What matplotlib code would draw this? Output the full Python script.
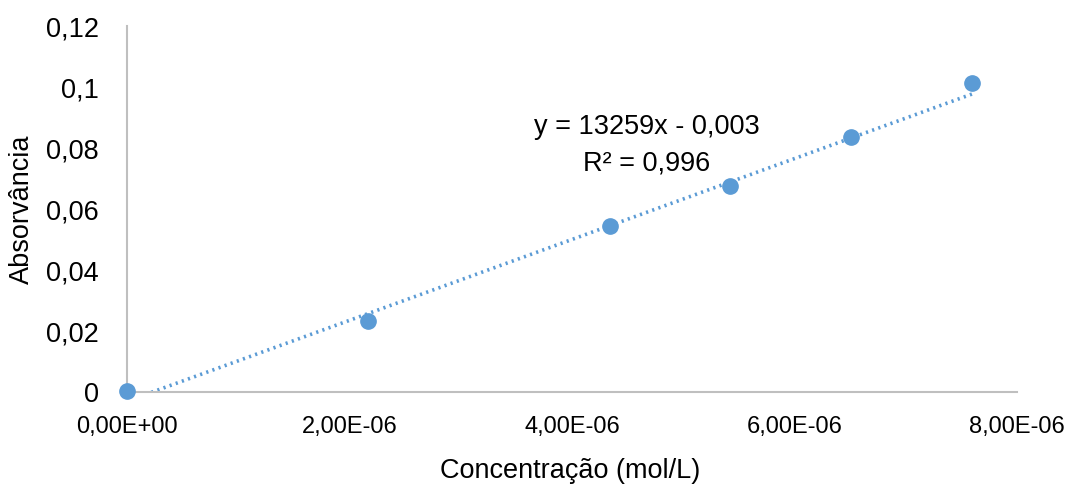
import matplotlib
matplotlib.use("Agg")
import matplotlib.pyplot as plt
import numpy as np

# concentration (mol/L) and absorbance
conc = [0.0, 2.17e-6, 4.34e-6, 5.42e-6, 6.51e-6, 7.60e-6]
absorb = [0.0003, 0.0234, 0.0544, 0.0675, 0.0835, 0.1015]
slope = 13259
intercept = -0.003
eq_text = "y = 13259x - 0,003\nR² = 0,996"

x_ticks = [0, 2e-6, 4e-6, 6e-6, 8e-6]
x_labels = ["0,00E+00", "2,00E-06", "4,00E-06", "6,00E-06", "8,00E-06"]
y_ticks = [0, 0.02, 0.04, 0.06, 0.08, 0.1, 0.12]
y_labels = ["0", "0,02", "0,04", "0,06", "0,08", "0,1", "0,12"]

plt.rcParams["font.family"] = ["Liberation Sans", "DejaVu Sans"]

blue = "#5B9BD5"

fig = plt.figure(figsize=(10.75, 4.92), dpi=100)
ax = fig.add_axes([0.118, 0.203, 0.828, 0.744])

xs = np.array([conc[0], conc[-1]])
ax.plot(xs, slope * xs + intercept, linestyle=(0, (0.6, 1.2)), color=blue,
        linewidth=2.6, zorder=2)
ax.plot(conc, absorb, "o", color=blue, markersize=11, zorder=3, clip_on=False)

ax.set_xlim(0, 8e-6)
ax.set_ylim(0, 0.12)
ax.set_xticks(x_ticks)
ax.set_xticklabels(x_labels)
ax.set_yticks(y_ticks)
ax.set_yticklabels(y_labels)
ax.tick_params(length=0)
ax.tick_params(axis="x", labelsize=17, pad=17)
ax.tick_params(axis="y", labelsize=19.5, pad=20)

for side in ["top", "right"]:
    ax.spines[side].set_visible(False)
for side in ["left", "bottom"]:
    ax.spines[side].set_color("#BFBFBF")
    ax.spines[side].set_linewidth(1.5)

fig.text(570 / 1075, 1 - 471 / 492, "Concentração (mol/L)", fontsize=19.5,
         ha="center", va="center")
fig.text(22 / 1075, 1 - 209 / 492, "Absorvância", fontsize=19.5,
         ha="center", va="center", rotation=90)

ax.text(4.674e-6, 0.0810, eq_text, fontsize=19.5, ha="center", va="center",
        linespacing=1.5)

fig.savefig("out.png", dpi=100)
